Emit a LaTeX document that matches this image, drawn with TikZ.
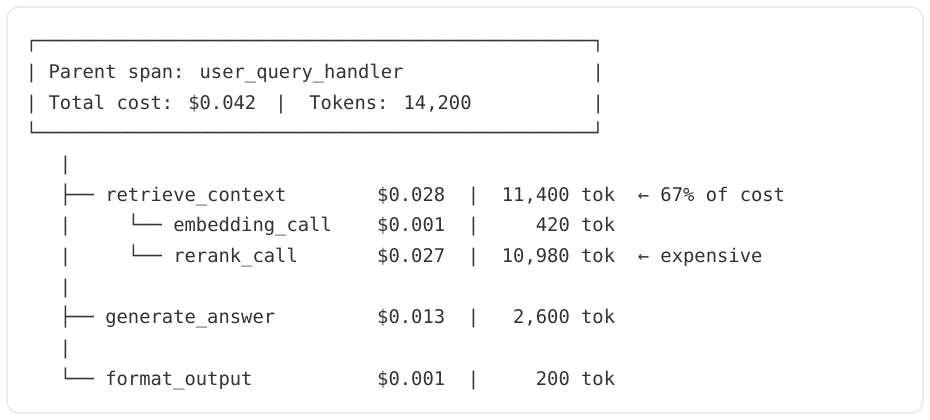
\documentclass[tikz,border=0pt]{standalone}
\usepackage{fontspec}
\newfontfamily\codefont{DejaVu Sans Mono}

\definecolor{codetext}{HTML}{333333}
\definecolor{cardline}{HTML}{E2E2E2}

\tikzset{
	code/.style={anchor=base west, inner sep=0pt, outer sep=0pt, text=codetext,
		font=\codefont\fontsize{14.11pt}{17pt}\selectfont},
}

\begin{document}
\begin{tikzpicture}[x=0.75pt,y=-0.75pt]
	
	\useasboundingbox (0,0) rectangle (930,419);
	
	% card
	\draw[cardline, line width=0.8pt, fill=white, rounded corners=9pt] (7,7) rectangle (923,413);
	
	% one unit = one character cell
	\begin{scope}[xshift=19.5pt, yshift=-35.7pt, x=8.4975pt, y=-23.025pt]
	
	% header box
	\node[code] (boxtop) at (0,0) {┌─────────────────────────────────────────────────┐};
	\node[code] (barl1) at (0,1) {|};
	\node[code] (parent) at (2,1) {Parent span: user\_query\_handler};
	\node[code] (barr1) at (50,1) {|};
	\node[code] (barl2) at (0,2) {|};
	\node[code] (total) at (2,2) {Total cost: \$0.042};
	\node[code] (totalsep) at (22,2) {|};
	\node[code] (tokens) at (25,2) {Tokens: 14,200};
	\node[code] (barr2) at (50,2) {|};
	\node[code] (boxbot) at (0,3) {└─────────────────────────────────────────────────┘};
	
	% trunk
	\node[code] (trunk4) at (3,4) {|};
	\node[code] (trunk6) at (3,6) {|};
	\node[code] (trunk7) at (3,7) {|};
	\node[code] (trunk8) at (3,8) {|};
	\node[code] (trunk10) at (3,10) {|};
	
	% retrieve_context
	\node[code] (brretrieve) at (3,5) {├──};
	\node[code] (retrieve) at (7,5) {retrieve\_context};
	\node[code] (retrievecost) at (31,5) {\$0.028};
	\node[code] (retrievesep) at (39,5) {|};
	\node[code] (retrievetok) at (42,5) {11,400 tok};
	\node[code] (retrievenote) at (54,5) {← 67\% of cost};
	
	% embedding_call
	\node[code] (brembed) at (9,6) {└──};
	\node[code] (embed) at (13,6) {embedding\_call};
	\node[code] (embedcost) at (31,6) {\$0.001};
	\node[code] (embedsep) at (39,6) {|};
	\node[code] (embedtok) at (45,6) {420 tok};
	
	% rerank_call
	\node[code] (brrerank) at (9,7) {└──};
	\node[code] (rerank) at (13,7) {rerank\_call};
	\node[code] (rerankcost) at (31,7) {\$0.027};
	\node[code] (reranksep) at (39,7) {|};
	\node[code] (reranktok) at (42,7) {10,980 tok};
	\node[code] (reranknote) at (54,7) {← expensive};
	
	% generate_answer
	\node[code] (brgenerate) at (3,9) {├──};
	\node[code] (generate) at (7,9) {generate\_answer};
	\node[code] (generatecost) at (31,9) {\$0.013};
	\node[code] (generatesep) at (39,9) {|};
	\node[code] (generatetok) at (43,9) {2,600 tok};
	
	% format_output
	\node[code] (brformat) at (3,11) {└──};
	\node[code] (format) at (7,11) {format\_output};
	\node[code] (formatcost) at (31,11) {\$0.001};
	\node[code] (formatsep) at (39,11) {|};
	\node[code] (formattok) at (45,11) {200 tok};
	
	\end{scope}
	
\end{tikzpicture}
\end{document}
